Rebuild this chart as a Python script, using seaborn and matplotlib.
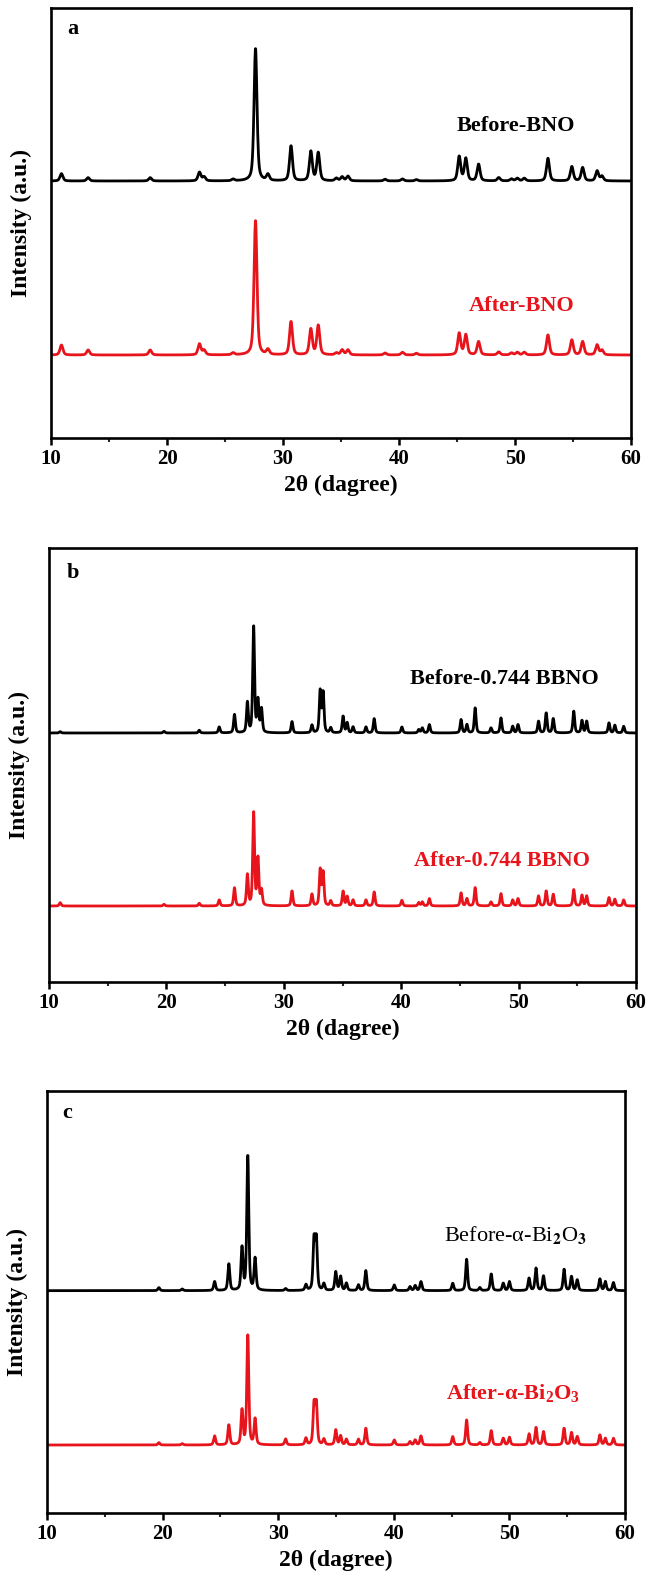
import numpy as np
import pandas as pd
import matplotlib
matplotlib.use("Agg")
import matplotlib.pyplot as plt
import seaborn as sns
from matplotlib.ticker import MultipleLocator

sns.set_theme(style="ticks")
plt.rcParams["font.family"] = ["Liberation Serif", "DejaVu Serif"]
plt.rcParams["font.weight"] = "bold"
plt.rcParams["mathtext.fontset"] = "custom"
plt.rcParams["mathtext.rm"] = "Liberation Serif:bold"
plt.rcParams["mathtext.it"] = "Liberation Serif:bold"
plt.rcParams["mathtext.bf"] = "Liberation Serif:bold"

# ---------------- peak lists (2-theta in degrees, intensity in a.u.) ----------------
# (a) Bi3NbO7 (BNO)
bno_pos = [10.9, 13.2, 18.55, 22.8, 23.2, 25.7, 27.63, 28.7, 30.69, 32.4, 33.04,
           34.6, 35.1, 35.6, 38.8, 40.3, 41.5, 45.19, 45.76, 46.86, 48.6, 49.7,
           50.2, 50.8, 52.84, 54.9, 55.83, 57.08, 57.5]
bno_before = [22, 10, 10, 26, 12, 5, 398, 18, 105, 88, 84,
              8, 12, 14, 5, 6, 4, 73, 67, 50, 10, 6,
              8, 8, 68, 43, 40, 30, 14]
bno_after = [30, 15, 15, 33, 14, 6, 404, 15, 100, 77, 88,
             6, 15, 15, 6, 8, 5, 65, 60, 40, 9, 6,
             8, 8, 60, 45, 40, 30, 14]

# (b) 0.744 BBNO
bbno_pos = [10.95, 19.8, 22.8, 24.5, 25.8, 26.9, 27.43, 27.8, 28.1, 30.7, 32.4,
            33.1, 33.35, 34.0, 35.05, 35.4, 35.9, 37.0, 37.7, 40.06, 41.5, 41.8,
            42.4, 45.1, 45.6, 46.3, 47.65, 48.5, 49.5, 49.95, 51.7, 52.35, 52.95,
            54.7, 55.4, 55.8, 57.7, 58.2, 58.95]
bbno_before = [4, 5, 8, 18, 55, 90, 320, 95, 70, 34, 23,
               125, 120, 15, 50, 30, 18, 18, 43, 18, 10, 15,
               25, 40, 25, 75, 15, 45, 20, 25, 35, 60, 43,
               65, 37, 35, 30, 23, 20]
bbno_after = [10, 5, 8, 18, 54, 92, 280, 140, 45, 45, 35,
              108, 100, 15, 44, 28, 18, 18, 42, 17, 10, 12,
              22, 39, 22, 55, 12, 37, 18, 22, 30, 45, 35,
              49, 32, 30, 25, 20, 18]

# (c) alpha-Bi2O3
bi2o3_pos = [19.68, 21.7, 24.5, 25.73, 26.87, 27.37, 28.0, 30.64, 32.4, 33.1,
             33.3, 33.95, 34.98, 35.4, 35.9, 36.94, 37.58, 40.04, 41.4, 41.85,
             42.35, 45.1, 46.3, 47.44, 48.43, 49.47, 50.0, 51.7, 52.3, 52.95,
             54.73, 55.37, 55.87, 57.83, 58.3, 59.0]
bi2o3_before = [9, 5, 27, 80, 127, 405, 95, 6, 17, 150,
                150, 20, 56, 42, 22, 17, 60, 17, 12, 15,
                27, 22, 94, 9, 50, 22, 27, 37, 67, 44,
                64, 42, 32, 35, 27, 24]
bi2o3_after = [7, 4, 27, 60, 103, 330, 77, 18, 20, 120,
               120, 17, 45, 27, 17, 17, 50, 15, 10, 15,
               27, 25, 75, 7, 43, 20, 23, 33, 52, 40,
               50, 37, 25, 30, 20, 20]

panel_letters = ["a", "b", "c"]
before_names = ["Before-BNO", "Before-0.744 BBNO", r"Before-α-Bi$_2$O$_3$"]
after_names = ["After-BNO", "After-0.744 BBNO", r"After-α-Bi$_2$O$_3$"]
x_ticks = [10, 20, 30, 40, 50, 60]

BLACK = "#000000"
RED = "#e8141c"

two_theta = np.arange(10.0, 60.0001, 0.02)


def pattern(centers, heights, fwhm, eta=0.5):
    """Pseudo-Voigt powder pattern built from a peak list."""
    x = two_theta[:, None]
    c = np.asarray(centers)[None, :]
    h = np.asarray(heights, dtype=float)[None, :]
    hw = fwhm / 2.0
    gauss = np.exp(-np.log(2) * ((x - c) / hw) ** 2)
    lor = 1.0 / (1.0 + ((x - c) / hw) ** 2)
    return ((eta * lor + (1 - eta) * gauss) * h).sum(axis=1)


panels = [
    dict(pos=bno_pos, before=bno_before, after=bno_after, fwhm=0.30,
         offset=522, ylim=(-249, 1041),
         rect=(51, 8, 631, 438), letter_xy=(0.038, 0.95),
         before_xy=(50.1, 687), after_xy=(50.6, 147), before_weight="bold"),
    dict(pos=bbno_pos, before=bbno_before, after=bbno_after, fwhm=0.18,
         offset=519, ylim=(-228, 1074),
         rect=(49, 548, 636, 982), letter_xy=(0.041, 0.942),
         before_xy=(48.8, 681), after_xy=(48.6, 135), before_weight="bold"),
    dict(pos=bi2o3_pos, before=bi2o3_before, after=bi2o3_after, fwhm=0.20,
         offset=463, ylim=(-204, 1062),
         rect=(47, 1091, 625, 1513), letter_xy=(0.035, 0.948),
         before_xy=(50.5, 630), after_xy=(50.3, 155), before_weight="normal"),
]

W, H = 647, 1584
fig = plt.figure(figsize=(W / 100, H / 100), dpi=100)

for i, p in enumerate(panels):
    l, t, r, b = p["rect"]
    ax = fig.add_axes([l / W, 1 - b / H, (r - l) / W, (b - t) / H])

    before = pattern(p["pos"], p["before"], p["fwhm"]) + p["offset"]
    after = pattern(p["pos"], p["after"], p["fwhm"])
    df = pd.concat([
        pd.DataFrame({"two_theta": two_theta, "intensity": before, "sample": "before"}),
        pd.DataFrame({"two_theta": two_theta, "intensity": after, "sample": "after"}),
    ])
    sns.lineplot(data=df, x="two_theta", y="intensity", hue="sample",
                 palette={"before": BLACK, "after": RED}, estimator=None,
                 sort=False, legend=False, linewidth=2.0, ax=ax)

    ax.set_xlim(10, 60)
    ax.set_ylim(*p["ylim"])
    ax.set_xticks(x_ticks)
    ax.xaxis.set_minor_locator(MultipleLocator(5))
    ax.set_yticks([])
    ax.tick_params(axis="x", which="major", direction="out", length=5, width=1.8,
                   labelsize=15, pad=3, colors="black")
    ax.tick_params(axis="x", which="minor", direction="out", length=3, width=1.5)
    for lab in ax.get_xticklabels():
        lab.set_fontweight("bold")
    for s in ax.spines.values():
        s.set_visible(True)
        s.set_linewidth(1.9)
        s.set_color("black")

    ax.set_xlabel("2θ (dagree)", fontsize=17, fontweight="bold", color="black")
    ax.set_ylabel("Intensity (a.u.)", fontsize=17, fontweight="bold", color="black")
    ax.xaxis.set_label_coords(0.5, -37 / (b - t))
    ax.yaxis.set_label_coords(-30 / (r - l), 0.5)
    ax.yaxis.label.set_verticalalignment("center")

    ax.text(*p["letter_xy"], panel_letters[i], transform=ax.transAxes,
            ha="center", va="center", fontsize=16, fontweight="bold", color="black")
    if p["before_weight"] == "normal":
        ax.text(*p["before_xy"], before_names[i], ha="center", va="center",
                fontsize=16, fontweight="normal", color=BLACK,
                math_fontfamily="stix")
    else:
        ax.text(*p["before_xy"], before_names[i], ha="center", va="center",
                fontsize=16, fontweight="bold", color=BLACK)
    ax.text(*p["after_xy"], after_names[i], ha="center", va="center",
            fontsize=16, fontweight="bold", color=RED)

fig.savefig("out.png", dpi=100, facecolor="white")
